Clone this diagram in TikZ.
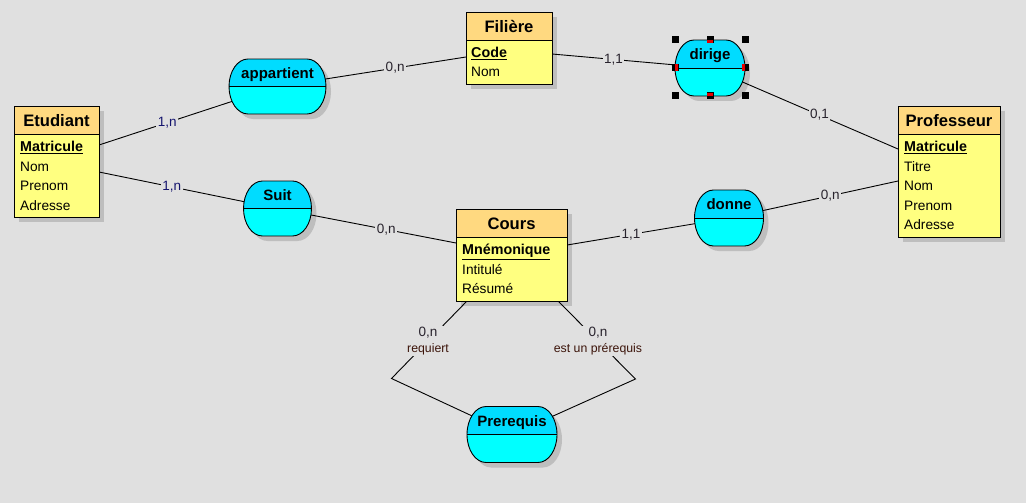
\documentclass[tikz,border=0pt]{standalone}
\usepackage{fontspec}
\setmainfont{Liberation Sans}
\usetikzlibrary{calc,shapes.geometric}
\definecolor{bg}{RGB}{224,224,224}
\definecolor{hdr}{RGB}{255,217,128}
\definecolor{bodyc}{RGB}{255,255,128}
\definecolor{cyanh}{RGB}{0,220,255}
\definecolor{cyanb}{RGB}{0,255,255}
\definecolor{shad}{RGB}{190,190,190}
\definecolor{navyc}{RGB}{20,20,110}
\definecolor{cardc}{RGB}{40,35,45}
\definecolor{smallc}{RGB}{60,20,10}
\definecolor{handred}{RGB}{230,0,0}
\newcommand\fsz[1]{\fontsize{#1}{#1}\selectfont}
% association outline: cx, cy, half width, half height, shift
\newcommand\assoline[5]{(#1+#3-19+#5,#2-#4+#5) arc[start angle=90,end angle=-90,x radius=19pt,y radius=#4pt] -- (#1-#3+19+#5,#2+#4+#5) arc[start angle=270,end angle=90,x radius=19pt,y radius=#4pt] -- cycle}
\newcommand\assoshadow[4]{\fill[shad] \assoline{#1}{#2}{#3}{#4}{5};}
\newcommand\assobody[5]{%
  \begin{scope}
    \clip \assoline{#1}{#2}{#3}{#4}{0};
    \fill[cyanb] (#1-#3,#2-#4) rectangle (#1+#3,#2+#4);
    \fill[cyanh] (#1-#3,#2-#4) rectangle (#1+#3,#2);
  \end{scope}
  \draw[line width=0.9pt] (#1-#3,#2) -- (#1+#3,#2);
  \draw[line width=0.9pt] \assoline{#1}{#2}{#3}{#4}{0};
  \node[atxt] at (#1,#2-8.5) {#5};}
\begin{document}
\begin{tikzpicture}[x=1pt,y=-1pt,
  entslot/.style={inner sep=0pt, outer sep=0pt, anchor=north west},
  assoslot/.style={ellipse, inner sep=0pt, outer sep=0pt},
  ent/.style={draw=black, line width=0.9pt, fill=bodyc,
    path picture={\fill[hdr] (path picture bounding box.north west) rectangle ([yshift=-28pt]path picture bounding box.north east);
      \draw[line width=0.9pt] ([yshift=-28pt]path picture bounding box.north west) -- ([yshift=-28pt]path picture bounding box.north east);}},
  ttl/.style={anchor=base, inner sep=0pt, font=\fsz{16.6}\bfseries},
  att/.style={anchor=base west, inner sep=0pt, font=\fsz{13.7}},
  katt/.style={anchor=base west, inner sep=0pt, font=\fsz{14.3}\bfseries},
  atxt/.style={anchor=base, inner sep=0pt, font=\fsz{15}\bfseries},
  conn/.style={draw=black, line width=0.9pt},
  cardn/.style={fill=bg, inner sep=1.5pt, font=\fsz{13.5}, text=navyc},
  cardo/.style={fill=bg, inner sep=1.5pt, font=\fsz{13.5}, text=cardc},
  role/.style={fill=bg, inner sep=1pt, align=center, font=\fontsize{12.3}{16}\selectfont, text=smallc},
  handle/.style={fill=black}
]
\fill[bg] (0,0) rectangle (1026,503);
\useasboundingbox (0,0) rectangle (1026,503);

% ---- slots (named nodes used by the connectors)
\node[entslot, minimum width=85pt, minimum height=111pt] (etu) at (14,106) {};
\node[entslot, minimum width=86pt, minimum height=72pt] (fil) at (466,12) {};
\node[entslot, minimum width=102pt, minimum height=131pt] (prof) at (898,106) {};
\node[entslot, minimum width=111pt, minimum height=92pt] (cou) at (456,209) {};
\node[assoslot, minimum width=97pt, minimum height=55pt] (app) at (277.5,86.5) {};
\node[assoslot, minimum width=68pt, minimum height=55pt] (suit) at (277.5,208.5) {};
\node[assoslot, minimum width=70pt, minimum height=56pt] (dir) at (710,68) {};
\node[assoslot, minimum width=69pt, minimum height=56pt] (don) at (729,218) {};
\node[assoslot, minimum width=90pt, minimum height=56pt] (pre) at (512,434.5) {};

% ---- shadows
\foreach \n in {etu,fil,prof,cou}
  \fill[shad] ([shift={(5pt,-5pt)}]\n.north west) rectangle ([shift={(5pt,-5pt)}]\n.south east);
\assoshadow{277.5}{86.5}{48.5}{27.5}
\assoshadow{277.5}{208.5}{34}{27.5}
\assoshadow{710}{68}{35}{28}
\assoshadow{729}{218}{34.5}{28}
\assoshadow{512}{434.5}{45}{28}

% ---- connectors
\draw[conn] (etu.east |- 0,145) -- node[cardn] {1,n} (app);
\draw[conn] (app) -- node[cardo] {0,n} (fil.west |- 0,57);
\draw[conn] (fil.east |- 0,54) -- node[cardo] {1,1} (dir);
\draw[conn] (dir) -- node[cardo] {0,1} (prof.west |- 0,149);
\draw[conn] (etu.east |- 0,172) -- node[cardn] {1,n} (suit);
\draw[conn] (suit) -- node[cardo, pos=0.52] {0,n} (cou.west |- 0,243);
\draw[conn] (cou.east |- 0,245) -- node[cardo] {1,1} (don);
\draw[conn] (don) -- node[cardo] {0,n} (prof.west |- 0,181);
\coordinate (lb) at (391.5,378.5);
\coordinate (rb) at (635.5,379);
\draw[conn] (cou.south -| 467,0) -- node[role, pos=0.516] {{\fontsize{13.5}{16}\selectfont\color{cardc}0,n}\\requiert} (lb) -- (pre);
\draw[conn] (cou.south -| 558,0) -- node[role, pos=0.516] {{\fontsize{13.5}{16}\selectfont\color{cardc}0,n}\\est un prérequis} (rb) -- (pre);

% ---- entities
\draw[ent] (etu.north west) rectangle (etu.south east);
\node[ttl] at ($(etu.north)+(0,20.5)$) {Etudiant};
\node[katt] at (20,151.5) {\underline{Matricule}};
\node[att] at (20,171) {Nom};
\node[att] at (20,190.5) {Prenom};
\node[att] at (20,210) {Adresse};

\draw[ent] (fil.north west) rectangle (fil.south east);
\node[ttl] at ($(fil.north)+(0,20.5)$) {Filière};
\node[katt] at (471,57.5) {\underline{Code}};
\node[att] at (471,77) {Nom};

\draw[ent] (prof.north west) rectangle (prof.south east);
\node[ttl] at ($(prof.north)+(0,20.5)$) {Professeur};
\node[katt] at (904,151.5) {\underline{Matricule}};
\node[att] at (904,171) {Titre};
\node[att] at (904,190.5) {Nom};
\node[att] at (904,210) {Prenom};
\node[att] at (904,229.5) {Adresse};

\draw[ent] (cou.north west) rectangle (cou.south east);
\node[ttl] at ($(cou.north)+(0,20.5)$) {Cours};
\node[katt] at (462,254.5) {\underline{Mnémonique}};
\node[att] at (462,274) {Intitulé};
\node[att] at (462,293.5) {Résumé};

% ---- associations
\assobody{277.5}{86.5}{48.5}{27.5}{appartient}
\assobody{277.5}{208.5}{34}{27.5}{Suit}
\assobody{710}{68}{35}{28}{dirige}
\assobody{729}{218}{34.5}{28}{donne}
\assobody{512}{434.5}{45}{28}{Prerequis}

% ---- selection handles on dirige
\foreach \hx/\hy in {675/40,710/40,745/40,675/96,710/96,745/96,675/68,745/68}
  \fill[handle] (\hx-3.5,\hy-3.5) rectangle (\hx+3.5,\hy+3.5);
\fill[handred] (707,40) rectangle (713,43);
\fill[handred] (707,93) rectangle (713,96);
\fill[handred] (675,64.5) rectangle (678,71.5);
\fill[handred] (742,64.5) rectangle (745,71.5);
\end{tikzpicture}
\end{document}
